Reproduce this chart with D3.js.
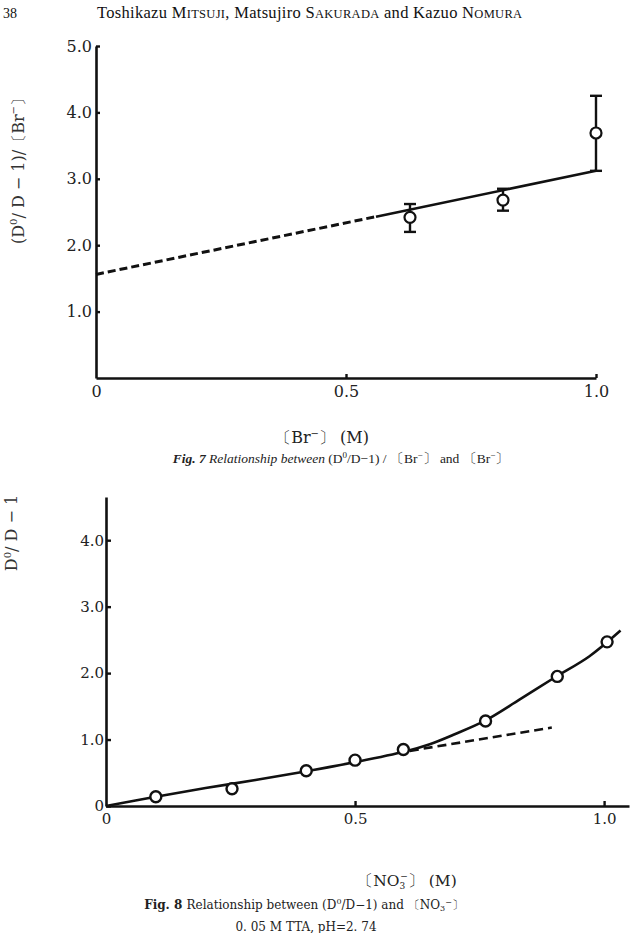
<!DOCTYPE html>
<html><head><meta charset="utf-8">
<script src="https://cdn.jsdelivr.net/npm/d3@7"></script>
<style>html,body{margin:0;padding:0;background:#fff;}svg{display:block;}</style>
</head><body>
<script>
// ---- Fig. 7 data ----
const fig7X = [0.628, 0.814, 1.0];
const fig7Y = [2.42, 2.68, 3.69];
const fig7ErrLo = [2.20, 2.52, 3.12];
const fig7ErrHi = [2.62, 2.85, 4.25];
const fig7DashX = [0, 0.56];
const fig7DashY = [1.56, 2.43];
const fig7SolidX = [0.56, 1.0];
const fig7SolidY = [2.43, 3.12];
const fig7YTicks = [1, 2, 3, 4, 5];
const fig7YTickLabels = ["1.0", "2.0", "3.0", "4.0", "5.0"];
const fig7XTicks = [0, 0.5, 1.0];
const fig7XTickLabels = ["0", "0.5", "1.0"];

// ---- Fig. 8 data ----
const fig8X = [0.10, 0.253, 0.402, 0.50, 0.597, 0.762, 0.906, 1.006];
const fig8Y = [0.14, 0.26, 0.53, 0.69, 0.85, 1.28, 1.95, 2.47];
const fig8CurveX = [0, 0.1, 0.2, 0.3, 0.4, 0.5, 0.6, 0.65, 0.7, 0.76, 0.83, 0.9, 0.97, 1.033];
const fig8CurveY = [0, 0.14, 0.27, 0.39, 0.52, 0.66, 0.82, 0.93, 1.08, 1.28, 1.6, 1.93, 2.25, 2.64];
const fig8DashX = [0.61, 0.895];
const fig8DashY = [0.83, 1.18];
const fig8YTicks = [0, 1, 2, 3, 4];
const fig8YTickLabels = ["0", "1.0", "2.0", "3.0", "4.0"];
const fig8XTicks = [0, 0.5, 1.0];
const fig8XTickLabels = ["0", "0.5", "1.0"];

const W = 636, H = 933;
const ink = "#111";
const svg = d3.select("body").append("svg").attr("width", W).attr("height", H)
  .style("font-family", "'DejaVu Serif', serif");

// ---- header ----
svg.append("text").attr("x", 3).attr("y", 18).attr("font-size", 14).attr("fill", ink)
  .attr("font-family", "'Liberation Serif', serif").text("38");
const hdr = svg.append("text").attr("x", 97).attr("y", 18).attr("fill", ink)
  .attr("font-family", "'Liberation Serif', serif").attr("letter-spacing", 0.3);
[["Toshikazu ", 16.5], ["M", 16.5], ["ITSUJI", 12.5], [", Matsujiro ", 16.5], ["S", 16.5], ["AKURADA", 12.5],
 [" and Kazuo ", 16.5], ["N", 16.5], ["OMURA", 12.5]].forEach(([t, s]) => hdr.append("tspan").attr("font-size", s).text(t));

// ================= Fig. 7 =================
const x7 = d3.scaleLinear().domain([0, 1]).range([96, 596]);
const y7 = d3.scaleLinear().domain([0, 5]).range([378, 46]);
const g7 = svg.append("g");

const yAx7 = d3.axisLeft(y7).tickValues(fig7YTicks).tickFormat((d, i) => fig7YTickLabels[i])
  .tickSizeInner(-4).tickSizeOuter(0).tickPadding(4);
g7.append("g").attr("transform", `translate(${x7(0)},0)`).call(yAx7)
  .call(g => { g.select(".domain").attr("stroke", ink).attr("stroke-width", 2.6);
    g.selectAll(".tick line").attr("stroke", ink).attr("stroke-width", 2.4);
    g.selectAll("text").attr("font-size", 16).attr("fill", "#222").attr("font-family", "'DejaVu Serif', serif"); });
const xAx7 = d3.axisBottom(x7).tickValues(fig7XTicks).tickFormat((d, i) => fig7XTickLabels[i])
  .tickSizeInner(-4).tickSizeOuter(0).tickPadding(8);
g7.append("g").attr("transform", `translate(0,${y7(0)})`).call(xAx7)
  .call(g => { g.select(".domain").attr("stroke", ink).attr("stroke-width", 2.6);
    g.selectAll(".tick line").attr("stroke", ink).attr("stroke-width", 2.4);
    g.selectAll(".tick").filter(d => d === 0).select("line").remove();
    g.selectAll("text").attr("font-size", 16).attr("fill", "#222").attr("font-family", "'DejaVu Serif', serif"); });

const line7 = d3.line().x(d => x7(d[0])).y(d => y7(d[1]));
g7.append("path").datum(d3.zip(fig7DashX, fig7DashY)).attr("d", line7)
  .attr("fill", "none").attr("stroke", ink).attr("stroke-width", 3).attr("stroke-dasharray", "8,4");
g7.append("path").datum(d3.zip(fig7SolidX, fig7SolidY)).attr("d", line7)
  .attr("fill", "none").attr("stroke", ink).attr("stroke-width", 2.6);

fig7X.forEach((xv, i) => {
  const cx = x7(xv);
  g7.append("line").attr("x1", cx).attr("x2", cx).attr("y1", y7(fig7ErrLo[i])).attr("y2", y7(fig7ErrHi[i]))
    .attr("stroke", ink).attr("stroke-width", 2.4);
  [fig7ErrLo[i], fig7ErrHi[i]].forEach(v => g7.append("line").attr("x1", cx - 6).attr("x2", cx + 6)
    .attr("y1", y7(v)).attr("y2", y7(v)).attr("stroke", ink).attr("stroke-width", 2.4));
  g7.append("circle").attr("cx", cx).attr("cy", y7(fig7Y[i])).attr("r", 5.5)
    .attr("fill", "#fff").attr("stroke", ink).attr("stroke-width", 2.2);
});

// y label fig 7
const yl7 = svg.append("text").attr("transform", "translate(24,167) rotate(-90)")
  .attr("text-anchor", "middle").attr("font-size", 16).attr("fill", "#333");
yl7.append("tspan").text("(D");
yl7.append("tspan").attr("font-size", 10).attr("dy", -7).text("0");
yl7.append("tspan").attr("dy", 7).text("/ D − 1)/〔Br");
yl7.append("tspan").attr("font-size", 10).attr("dy", -7).text("−");
yl7.append("tspan").attr("dy", 7).text("〕");

// x label fig 7
const xl7 = svg.append("text").attr("x", 322).attr("y", 443).attr("text-anchor", "middle")
  .attr("font-size", 16).attr("fill", "#222");
xl7.append("tspan").text("〔Br");
xl7.append("tspan").attr("font-size", 10).attr("dy", -6).text("−");
xl7.append("tspan").attr("dy", 6).text("〕 (M)");

// caption fig 7
const c7 = svg.append("text").attr("x", 341).attr("y", 463).attr("text-anchor", "middle")
  .attr("font-size", 13.5).attr("fill", "#222").attr("font-family", "'Liberation Serif', serif");
c7.append("tspan").attr("font-weight", "bold").attr("font-style", "italic").text("Fig.  7   ");
c7.append("tspan").attr("font-style", "italic").text("Relationship between ");
c7.append("tspan").text("(D");
c7.append("tspan").attr("font-size", 9).attr("dy", -5).text("0");
c7.append("tspan").attr("dy", 5).text("/D−1) / 〔Br");
c7.append("tspan").attr("font-size", 9).attr("dy", -5).text("−");
c7.append("tspan").attr("dy", 5).text("〕 and 〔Br");
c7.append("tspan").attr("font-size", 9).attr("dy", -5).text("−");
c7.append("tspan").attr("dy", 5).text("〕");

// ================= Fig. 8 =================
const x8 = d3.scaleLinear().domain([0, 1.05]).range([106, 629]);
const y8 = d3.scaleLinear().domain([0, 4.65]).range([806, 497]);
const g8 = svg.append("g");

const yAx8 = d3.axisLeft(y8).tickValues(fig8YTicks).tickFormat((d, i) => fig8YTickLabels[i])
  .tickSizeInner(-5).tickSizeOuter(0).tickPadding(2);
g8.append("g").attr("transform", `translate(${x8(0)},0)`).call(yAx8)
  .call(g => { g.select(".domain").attr("stroke", ink).attr("stroke-width", 2.6);
    g.selectAll(".tick line").attr("stroke", ink).attr("stroke-width", 2.4);
    g.selectAll("text").attr("font-size", 15).attr("fill", "#222").attr("font-family", "'DejaVu Serif', serif"); });
const xAx8 = d3.axisBottom(x8).tickValues(fig8XTicks).tickFormat((d, i) => fig8XTickLabels[i])
  .tickSizeInner(-5).tickSizeOuter(0).tickPadding(7);
g8.append("g").attr("transform", `translate(0,${y8(0)})`).call(xAx8)
  .call(g => { g.select(".domain").attr("stroke", ink).attr("stroke-width", 2.6);
    g.selectAll(".tick line").attr("stroke", ink).attr("stroke-width", 2.4);
    g.selectAll(".tick").filter(d => d === 0).select("line").remove();
    g.selectAll("text").attr("font-size", 15).attr("fill", "#222").attr("font-family", "'DejaVu Serif', serif"); });

const line8 = d3.line().x(d => x8(d[0])).y(d => y8(d[1])).curve(d3.curveCatmullRom);
g8.append("path").datum(d3.zip(fig8DashX, fig8DashY)).attr("d", line8)
  .attr("fill", "none").attr("stroke", ink).attr("stroke-width", 2.6).attr("stroke-dasharray", "9,5");
g8.append("path").datum(d3.zip(fig8CurveX, fig8CurveY)).attr("d", line8)
  .attr("fill", "none").attr("stroke", ink).attr("stroke-width", 2.6);
fig8X.forEach((xv, i) => {
  g8.append("circle").attr("cx", x8(xv)).attr("cy", y8(fig8Y[i])).attr("r", 5.5)
    .attr("fill", "#fff").attr("stroke", ink).attr("stroke-width", 2.4);
});

// y label fig 8 (at the left edge)
const yl8 = svg.append("text").attr("transform", "translate(17,533) rotate(-90)")
  .attr("text-anchor", "middle").attr("font-size", 16).attr("fill", "#333");
yl8.append("tspan").text("D");
yl8.append("tspan").attr("font-size", 10).attr("dy", -6).text("0");
yl8.append("tspan").attr("dy", 6).text("/ D − 1");

// x label fig 8
const xl8 = svg.append("text").attr("x", 407).attr("y", 886).attr("text-anchor", "middle")
  .attr("font-size", 15.5).attr("fill", "#222");
xl8.append("tspan").text("〔NO");
xl8.append("tspan").attr("font-size", 9).attr("dy", 3).text("3");
xl8.append("tspan").attr("font-size", 9).attr("dx", -5).attr("dy", -10).text("−");
xl8.append("tspan").attr("dy", 7).text("〕 (M)");

// caption fig 8
const c8 = svg.append("text").attr("x", 304).attr("y", 909).attr("text-anchor", "middle")
  .attr("font-size", 12).attr("fill", "#222").attr("font-family", "'DejaVu Serif', serif");
c8.append("tspan").attr("font-weight", "bold").text("Fig.  8   ");
c8.append("tspan").text("Relationship between (D");
c8.append("tspan").attr("font-size", 8).attr("dy", -5).text("0");
c8.append("tspan").attr("dy", 5).text("/D−1) and 〔NO");
c8.append("tspan").attr("font-size", 8).attr("dy", 2).text("3");
c8.append("tspan").attr("font-size", 8).attr("dy", -6).text("−");
c8.append("tspan").attr("dy", 4).text("〕");
svg.append("text").attr("x", 306).attr("y", 931).attr("text-anchor", "middle")
  .attr("font-size", 12).attr("fill", "#222").attr("font-family", "'DejaVu Serif', serif")
  .text("0. 05 M TTA,  pH=2. 74");
</script>
</body></html>
